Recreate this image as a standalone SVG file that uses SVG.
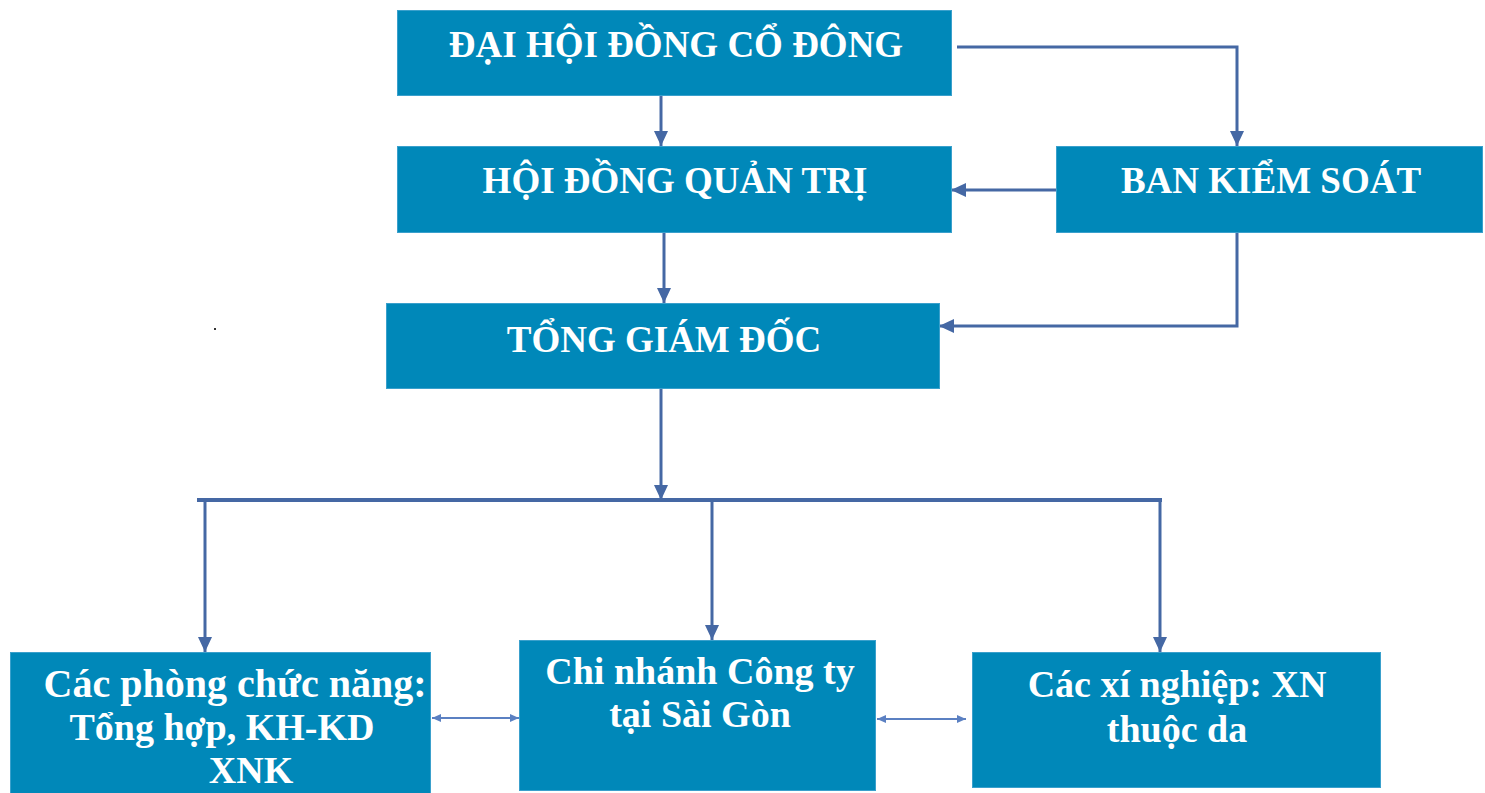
<svg xmlns="http://www.w3.org/2000/svg" width="1485" height="793" viewBox="0 0 1485 793">
<style>
.box{fill:#0088b9;stroke:#3aa0cc;stroke-width:1}
.t{font-family:"Liberation Serif","Times New Roman",serif;font-weight:bold;fill:#ffffff;text-anchor:middle}
.t1{font-size:37px}
.t2{font-size:38px}
.c{fill:none;stroke:#4568a4;stroke-width:3}
.d{fill:none;stroke:#5b80c2;stroke-width:2}
</style>
<defs>
<marker id="ah" viewBox="0 0 15 14" refX="15" refY="7" markerWidth="15" markerHeight="14" markerUnits="userSpaceOnUse" orient="auto">
<path d="M0,0 L15,7 L0,14 Z" fill="#4568a4"/>
</marker>
<marker id="sa" viewBox="0 0 9 8" refX="9" refY="4" markerWidth="9" markerHeight="8" markerUnits="userSpaceOnUse" orient="auto-start-reverse">
<path d="M0,0 L9,4 L0,8 Z" fill="#5b80c2"/>
</marker>
</defs>
<rect width="1485" height="793" fill="#ffffff"/>
<g id="connectors">
<path class="c" d="M661,93 V146" marker-end="url(#ah)"/>
<path class="c" d="M957,47 H1237 V146" marker-end="url(#ah)"/>
<path class="c" d="M1056,190 H951" marker-end="url(#ah)"/>
<path class="c" d="M664,232 V303" marker-end="url(#ah)"/>
<path class="c" d="M1237,232 V326 H939" marker-end="url(#ah)"/>
<path class="c" d="M661,388 V500" marker-end="url(#ah)"/>
<path fill="none" stroke="#4568a4" stroke-width="4" d="M197,500 H1162"/>
<path class="c" d="M205,500 V652" marker-end="url(#ah)"/>
<path class="c" d="M712,500 V640" marker-end="url(#ah)"/>
<path class="c" d="M1160,500 V652" marker-end="url(#ah)"/>
<path class="d" d="M432,718 H519" marker-start="url(#sa)" marker-end="url(#sa)"/>
<path class="d" d="M877,719 H966" marker-start="url(#sa)" marker-end="url(#sa)"/>
<rect x="214" y="328" width="2" height="2" fill="#333"/>
</g>
<g id="dhdcd">
<rect class="box" x="397.5" y="10.5" width="554" height="85"/>
<text class="t t1" x="676" y="57">ĐẠI HỘI ĐỒNG CỔ ĐÔNG</text>
</g>
<g id="hdqt">
<rect class="box" x="397.5" y="146.5" width="554" height="86"/>
<text class="t t1" x="675" y="193">HỘI ĐỒNG QUẢN TRỊ</text>
</g>
<g id="bks">
<rect class="box" x="1056.5" y="146.5" width="426" height="86"/>
<text class="t t1" x="1271" y="193">BAN KIỂM SOÁT</text>
</g>
<g id="tgd">
<rect class="box" x="386.5" y="303.5" width="553" height="85"/>
<text class="t t1" x="664" y="352">TỔNG GIÁM ĐỐC</text>
</g>
<g id="phong">
<rect class="box" x="10.5" y="652.5" width="420" height="145"/>
<text class="t t2" x="235" y="697" style="font-size:40px">Các phòng chức năng:</text>
<text class="t t2" x="222" y="740">Tổng hợp, KH-KD</text>
<text class="t t2" x="251" y="783">XNK</text>
</g>
<g id="chinhanh">
<rect class="box" x="519.5" y="640.5" width="356" height="150"/>
<text class="t t2" x="700" y="684">Chi nhánh Công ty</text>
<text class="t t2" x="700" y="727">tại Sài Gòn</text>
</g>
<g id="xinghiep">
<rect class="box" x="972.5" y="652.5" width="408" height="135"/>
<text class="t t2" x="1177" y="697">Các xí nghiệp: XN</text>
<text class="t t2" x="1177" y="742">thuộc da</text>
</g>
</svg>
